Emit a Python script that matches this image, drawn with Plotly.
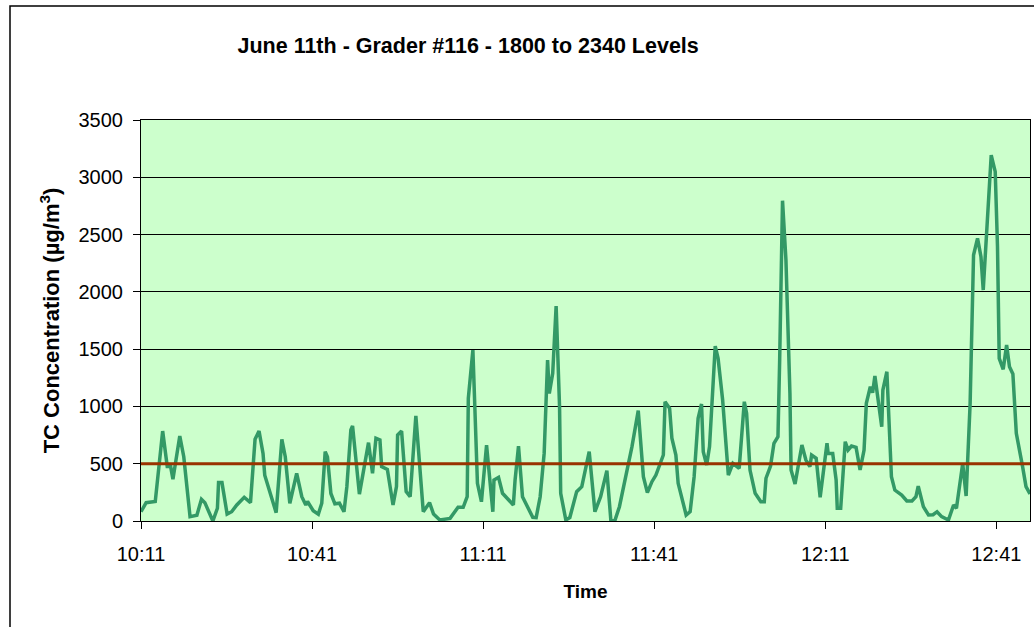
import pandas as pd
import plotly.graph_objects as go

# minutes after 10:11 and TC concentration (ug/m3)
minutes = [0, 0.9, 2.5, 3.8, 4.6, 5.2, 5.6, 6.8, 7.5, 8.6, 9.8, 10.6, 11.2, 12.6, 13.4, 13.6, 14.2, 15.1,
           15.9, 16.8, 18.1, 19.2, 20.0, 20.7, 21.4, 21.7, 23.7, 24.7, 25.3, 26.1, 27.3, 28.2, 28.9, 29.2,
           30.2, 31.1, 31.7, 32.3, 32.7, 33.3, 34.0, 34.8, 35.6, 36.1, 36.8, 37.1, 38.3, 39.9, 40.6, 41.2,
           41.9, 42.2, 43.2, 44.2, 44.8, 45.0, 45.7, 46.5, 47.2, 48.2, 49.5, 50.6, 51.3, 52.4, 54.2, 55.6,
           56.5, 57.2, 57.4, 58.2, 59.0, 59.7, 60.6, 61.7, 61.9, 62.7, 63.4, 64.4, 65.3, 65.6, 66.2, 66.9,
           67.9, 68.7, 69.3, 70.0, 70.7, 71.3, 71.6, 72.2, 72.8, 73.4, 73.6, 74.5, 75.2, 76.4, 77.3, 77.9,
           78.6, 79.6, 80.6, 81.7, 82.4, 83.1, 83.9, 86.1, 87.2, 88.1, 88.8, 89.6, 90.3, 91.6, 91.9, 92.7,
           93.1, 93.8, 94.2, 95.6, 96.3, 97.0, 97.7, 98.3, 98.6, 99.2, 99.7, 100.7, 101.2, 102.0, 103.0,
           103.8, 104.9, 105.8, 106.2, 106.8, 107.7, 108.7, 109.3, 109.6, 110.4, 111.0, 111.7, 112.0,
           112.5, 113.1, 113.8, 114.0, 114.7, 115.9, 116.6, 117.3, 117.6, 118.4, 119.1, 120.3, 120.5,
           121.3, 121.9, 122.1, 122.7, 123.5, 124.0, 124.6, 125.4, 126.1, 126.8, 127.2, 127.9, 128.3,
           128.7, 129.9, 130.1, 130.8, 131.6, 132.2, 133.4, 134.3, 135.2, 135.9, 136.3, 137.2, 138.1,
           138.9, 139.6, 140.4, 141.6, 142.5, 143.0, 144.1, 144.7, 145.4, 146.0, 146.7, 147.3, 147.7,
           148.3, 149.1, 149.8, 150.2, 150.5, 151.2, 151.8, 152.3, 152.9, 153.5, 154.6, 155.2, 155.9]
tc_conc = [81, 160, 170, 785, 475, 475, 364, 742, 561, 38, 50, 190, 160, 0, 111, 335, 335, 61,
           81, 140, 207, 160, 713, 785, 590, 400, 73, 713, 561, 154, 416, 212, 140, 170,
           90, 60, 155, 605, 560, 240, 150, 155, 81, 300, 794, 830, 235, 684, 416, 722,
           707, 474, 451, 140, 300, 750, 785, 256, 212, 917, 81, 160, 61, 9, 23, 120,
           120, 212, 1071, 1492, 329, 168, 663, 81, 358, 381, 242, 183, 140, 358, 654, 212,
           110, 32, 30, 212, 590, 1405, 1114, 1289, 1876, 998, 242, 9, 30, 256, 300, 445,
           605, 81, 212, 439, 3, 3, 125, 649, 963, 387, 247, 343, 401, 576, 1041, 983,
           722, 576, 329, 52, 81, 387, 896, 1021, 605, 489, 649, 1527, 1420, 1056, 401,
           503, 460, 1041, 940, 445, 242, 168, 168, 373, 480, 678, 736, 1405,
           2796, 2278, 1114, 445, 323, 663, 532, 474, 576, 547, 207, 678, 590,
           590, 358, 111, 111, 692, 620, 654, 643, 445, 620, 1027, 1172, 1120,
           1266, 823, 1143, 1303, 387, 270, 227, 175, 175, 212, 305, 125, 52,
           55, 81, 38, 9, 140, 111, 503, 218, 1027, 2322, 2467, 2307, 2016,
           2540, 3194, 3049, 2394, 1420, 1324, 1536, 1347, 1283, 765, 474, 300, 236]
limit = 500
start_time = '2000-06-11 10:11'
tick_minutes = [0, 30, 60, 90, 120, 150]

base = pd.Timestamp(start_time)
times = base + pd.to_timedelta(minutes, unit='min')
tick_times = [base + pd.Timedelta(minutes=m) for m in tick_minutes]

font = 'Liberation Sans, Arial, sans-serif'

fig = go.Figure()
fig.add_trace(go.Scatter(x=times, y=tc_conc, mode='lines',
                         line=dict(color='#339966', width=3.5), showlegend=False))
fig.add_trace(go.Scatter(x=[times[0], times[-1]], y=[limit, limit], mode='lines',
                         line=dict(color='#993300', width=3), showlegend=False))

fig.update_layout(
    width=1034, height=627,
    margin=dict(l=141, r=4, t=120, b=106),
    paper_bgcolor='white',
    plot_bgcolor='#CCFFCC',
    font=dict(family=font, size=20, color='black'),
    title=dict(text='<b>June 11th - Grader #116 - 1800 to 2340 Levels</b>',
               font=dict(size=21.5, family=font, color='black'),
               x=0.368, xref='paper', xanchor='center',
               y=1 - 45 / 627, yref='container', yanchor='middle'),
)
fig.update_xaxes(
    type='date', range=[times[0], times[-1]],
    tickvals=tick_times, tickformat='%H:%M',
    showgrid=False, zeroline=False,
    ticks='outside', ticklen=7, tickcolor='black', ticklabelstandoff=8,
    showline=True, linecolor='black', linewidth=1, mirror=True,
    title=dict(text='<b>Time</b>', font=dict(size=19), standoff=20),
)
fig.update_yaxes(
    range=[0, 3500], dtick=500,
    showgrid=True, gridcolor='black', gridwidth=1, zeroline=False,
    ticks='outside', ticklen=7, tickcolor='black', ticklabelstandoff=6,
    showline=True, linecolor='black', linewidth=1, mirror=True,
    title=dict(text='<b>TC Concentration (µg/m<sup>3</sup>)</b>', font=dict(size=22), standoff=12),
)

# outer chart frame
fig.add_shape(type='rect', xref='paper', yref='paper',
              x0=(10 - 141) / 889, x1=(1045 - 141) / 889,
              y0=(521 - 640) / 401, y1=(521 - 6) / 401,
              line=dict(color='black', width=1.5), fillcolor='rgba(0,0,0,0)', layer='below')

fig.write_html('out.html', config={'displayModeBar': False},
               post_script="document.body.style.margin='0';document.body.style.overflow='hidden';")
